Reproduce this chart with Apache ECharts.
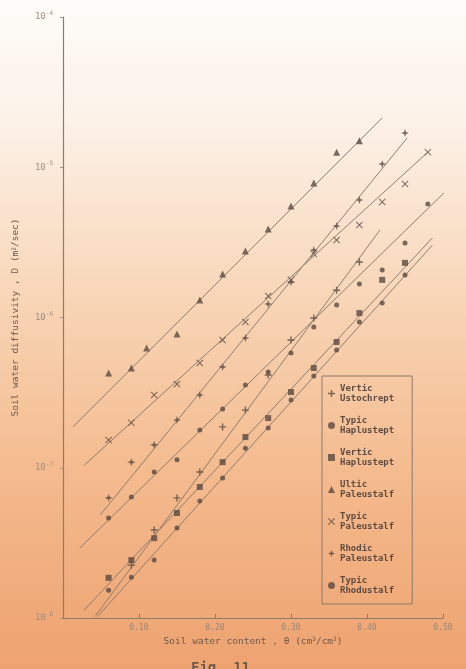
<!DOCTYPE html>
<html>
<head>
<meta charset="utf-8">
<script src="https://cdn.jsdelivr.net/npm/echarts@6/dist/echarts.min.js"></script>
<style>
  html, body { margin: 0; padding: 0; background: #fff; }
  #chart { width: 466px; height: 669px; }
</style>
</head>
<body>
<div id="chart"></div>
<script>
// Soil water diffusivity D (m^2/sec) against volumetric water content theta (cm^3/cm^3)

const soilNames = [
  'Vertic Ustochrept',
  'Typic Haplustept',
  'Vertic Haplustept',
  'Ultic Paleustalf',
  'Typic Paleustalf',
  'Rhodic Paleustalf',
  'Typic Rhodustalf'
];

// measured points: theta and D for each soil
const ustochreptTheta = [0.09, 0.12, 0.15, 0.18, 0.21, 0.24, 0.27, 0.30, 0.33, 0.36, 0.39];
const ustochreptD = [2.25e-8, 3.85e-8, 6.30e-8, 9.37e-8, 1.87e-7, 2.42e-7, 4.14e-7, 7.08e-7, 9.93e-7, 1.52e-6, 2.34e-6];

const typHaplusteptTheta = [0.06, 0.09, 0.12, 0.15, 0.18, 0.21, 0.24, 0.27, 0.30, 0.33, 0.36, 0.39, 0.42, 0.45, 0.48];
const typHaplusteptD = [4.63e-8, 6.38e-8, 9.37e-8, 1.13e-7, 1.78e-7, 2.46e-7, 3.56e-7, 4.34e-7, 5.81e-7, 8.65e-7, 1.21e-6, 1.67e-6, 2.07e-6, 3.13e-6, 5.69e-6];

const vertHaplusteptTheta = [0.06, 0.09, 0.12, 0.15, 0.18, 0.21, 0.24, 0.27, 0.30, 0.33, 0.36, 0.39, 0.42, 0.45];
const vertHaplusteptD = [1.85e-8, 2.43e-8, 3.40e-8, 5.00e-8, 7.45e-8, 1.09e-7, 1.60e-7, 2.14e-7, 3.19e-7, 4.61e-7, 6.87e-7, 1.07e-6, 1.78e-6, 2.31e-6];

const ultPaleustalfTheta = [0.06, 0.09, 0.11, 0.15, 0.18, 0.21, 0.24, 0.27, 0.30, 0.33, 0.36, 0.39];
const ultPaleustalfD = [4.28e-7, 4.61e-7, 6.27e-7, 7.76e-7, 1.31e-6, 1.95e-6, 2.77e-6, 3.88e-6, 5.52e-6, 7.85e-6, 1.26e-5, 1.50e-5];

const typPaleustalfTheta = [0.06, 0.09, 0.12, 0.15, 0.18, 0.21, 0.24, 0.27, 0.30, 0.33, 0.36, 0.39, 0.42, 0.45, 0.48];
const typPaleustalfD = [1.53e-7, 1.99e-7, 3.05e-7, 3.61e-7, 4.98e-7, 7.08e-7, 9.33e-7, 1.39e-6, 1.78e-6, 2.65e-6, 3.28e-6, 4.13e-6, 5.87e-6, 7.74e-6, 1.26e-5];

const rhoPaleustalfTheta = [0.06, 0.09, 0.12, 0.15, 0.18, 0.21, 0.24, 0.27, 0.30, 0.33, 0.36, 0.39, 0.42, 0.45];
const rhoPaleustalfD = [6.30e-8, 1.09e-7, 1.42e-7, 2.08e-7, 3.05e-7, 4.69e-7, 7.31e-7, 1.23e-6, 1.72e-6, 2.81e-6, 4.06e-6, 6.05e-6, 1.05e-5, 1.69e-5];

const rhodustalfTheta = [0.06, 0.09, 0.12, 0.15, 0.18, 0.21, 0.24, 0.27, 0.30, 0.33, 0.36, 0.39, 0.42, 0.45];
const rhodustalfD = [1.53e-8, 1.87e-8, 2.43e-8, 3.97e-8, 6.01e-8, 8.55e-8, 1.35e-7, 1.84e-7, 2.82e-7, 4.08e-7, 6.08e-7, 9.33e-7, 1.25e-6, 1.92e-6];

// fitted straight lines (log D linear in theta): [theta, D] at both ends
const ustochreptFit = [[0.042, 1.02e-8], [0.417, 3.82e-6]];
const typHaplusteptFit = [[0.022, 2.92e-8], [0.516, 7.98e-6]];
const vertHaplusteptFit = [[0.028, 1.13e-8], [0.486, 3.38e-6]];
const ultPaleustalfFit = [[0.013, 1.87e-7], [0.420, 2.13e-5]];
const typPaleustalfFit = [[0.028, 1.04e-7], [0.480, 1.26e-5]];
const rhoPaleustalfFit = [[0.049, 4.85e-8], [0.453, 1.57e-5]];
const rhodustalfFit = [[0.045, 1.02e-8], [0.486, 3.03e-6]];

const xTickValues = [0.1, 0.2, 0.3, 0.4, 0.5];
const yDecades = [-8, -7, -6, -5, -4];

const soils = [
  { theta: ustochreptTheta, d: ustochreptD, fit: ustochreptFit,
    symbol: 'path://M4,0H6V4H10V6H6V10H4V6H0V4H4Z', size: 7 },
  { theta: typHaplusteptTheta, d: typHaplusteptD, fit: typHaplusteptFit,
    symbol: 'circle', size: 5 },
  { theta: vertHaplusteptTheta, d: vertHaplusteptD, fit: vertHaplusteptFit,
    symbol: 'rect', size: 6 },
  { theta: ultPaleustalfTheta, d: ultPaleustalfD, fit: ultPaleustalfFit,
    symbol: 'triangle', size: 7 },
  { theta: typPaleustalfTheta, d: typPaleustalfD, fit: typPaleustalfFit,
    symbol: 'path://M1,0L5,4L9,0L10,1L6,5L10,9L9,10L5,6L1,10L0,9L4,5L0,1Z', size: 7 },
  { theta: rhoPaleustalfTheta, d: rhoPaleustalfD, fit: rhoPaleustalfFit,
    symbol: 'path://M5,0L6.3,3.7L10,5L6.3,6.3L5,10L3.7,6.3L0,5L3.7,3.7Z', size: 8 },
  { theta: rhodustalfTheta, d: rhodustalfD, fit: rhodustalfFit,
    symbol: 'circle', size: 5 }
];

const mono = '"DejaVu Sans Mono", "Liberation Mono", monospace';
const inkColor = '#5a4a42';
const lineColor = '#8f7d6e';
const textColor = '#6e5a4e';

const series = [];
soils.forEach((s) => {
  series.push({
    type: 'line',
    data: s.fit,
    showSymbol: false,
    silent: true,
    clip: false,
    lineStyle: { color: lineColor, width: 1 },
    z: 2
  });
});
soils.forEach((s, i) => {
  series.push({
    name: soilNames[i],
    type: 'scatter',
    data: s.theta.map((t, k) => [t, s.d[k]]),
    symbol: s.symbol,
    symbolSize: s.size,
    clip: false,
    itemStyle: { color: inkColor, opacity: 0.8 },
    z: 3
  });
});

const chart = echarts.init(document.getElementById('chart'), null, { renderer: 'canvas' });
chart.setOption({
  animation: false,
  backgroundColor: {
    type: 'linear', x: 0, y: 0, x2: 0, y2: 1,
    colorStops: [
      { offset: 0, color: '#fefcf9' },
      { offset: 0.18, color: '#fcf2e8' },
      { offset: 0.45, color: '#f8d5b6' },
      { offset: 0.7, color: '#f4bb8f' },
      { offset: 1, color: '#eea270' }
    ]
  },
  title: {
    text: 'Fig. 11',
    left: 186,
    top: 656,
    textStyle: { fontFamily: mono, fontSize: 14, fontWeight: 'bold', color: '#6e5a4c' }
  },
  grid: { left: 63, right: 23, top: 17, bottom: 51 },
  xAxis: {
    type: 'value',
    min: 0,
    max: 0.5,
    interval: 0.1,
    name: 'Soil water content , \u03b8 (cm{s|3}/cm{s|3})',
    nameLocation: 'middle',
    nameGap: 17,
    nameTextStyle: {
      fontFamily: mono, fontSize: 9.5, color: textColor,
      rich: { s: { fontFamily: mono, fontSize: 6, verticalAlign: 'top', color: textColor } }
    },
    axisLine: { lineStyle: { color: '#8c7c70', width: 1.2 } },
    axisTick: { inside: true, length: 4, lineStyle: { color: '#8c7c70' } },
    splitLine: { show: false },
    axisLabel: {
      showMinLabel: false,
      margin: 6,
      fontFamily: mono, fontSize: 8, color: '#9a8678',
      formatter: v => xTickValues.some(t => Math.abs(t - v) < 1e-9) ? v.toFixed(2) : ''
    }
  },
  yAxis: {
    type: 'log',
    logBase: 10,
    min: Math.pow(10, yDecades[0]),
    max: Math.pow(10, yDecades[yDecades.length - 1]),
    name: 'Soil water diffusivity , D (m{s|2}/sec)',
    nameLocation: 'middle',
    nameGap: 42,
    nameRotate: 90,
    nameTextStyle: {
      fontFamily: mono, fontSize: 9.5, color: textColor,
      rich: { s: { fontFamily: mono, fontSize: 6, verticalAlign: 'top', color: textColor } }
    },
    axisLine: { show: true, lineStyle: { color: '#8c7c70', width: 1.2 } },
    axisTick: { show: true, inside: false, length: 3, lineStyle: { color: '#a89888' } },
    splitLine: { show: false },
    axisLabel: {
      margin: 10,
      fontFamily: mono, fontSize: 9, color: '#a08e80',
      formatter: v => '10{e|' + Math.round(Math.log10(v)) + '}',
      rich: { e: { fontFamily: mono, fontSize: 6, verticalAlign: 'bottom', padding: [0, 0, 7, 0], color: '#a08e80' } }
    }
  },
  legend: {
    data: soilNames,
    orient: 'vertical',
    left: 322,
    top: 376,
    padding: [7, 18, 8, 6],
    itemGap: 11,
    itemWidth: 7,
    itemHeight: 7,
    itemStyle: { color: inkColor },
    borderColor: '#8c7c70',
    borderWidth: 1,
    formatter: name => name.replace(' ', '\n'),
    textStyle: { fontFamily: mono, fontSize: 9, fontWeight: 'bold', lineHeight: 10.5, color: '#5e4c42' }
  },
  series: series
});
</script>
</body>
</html>
